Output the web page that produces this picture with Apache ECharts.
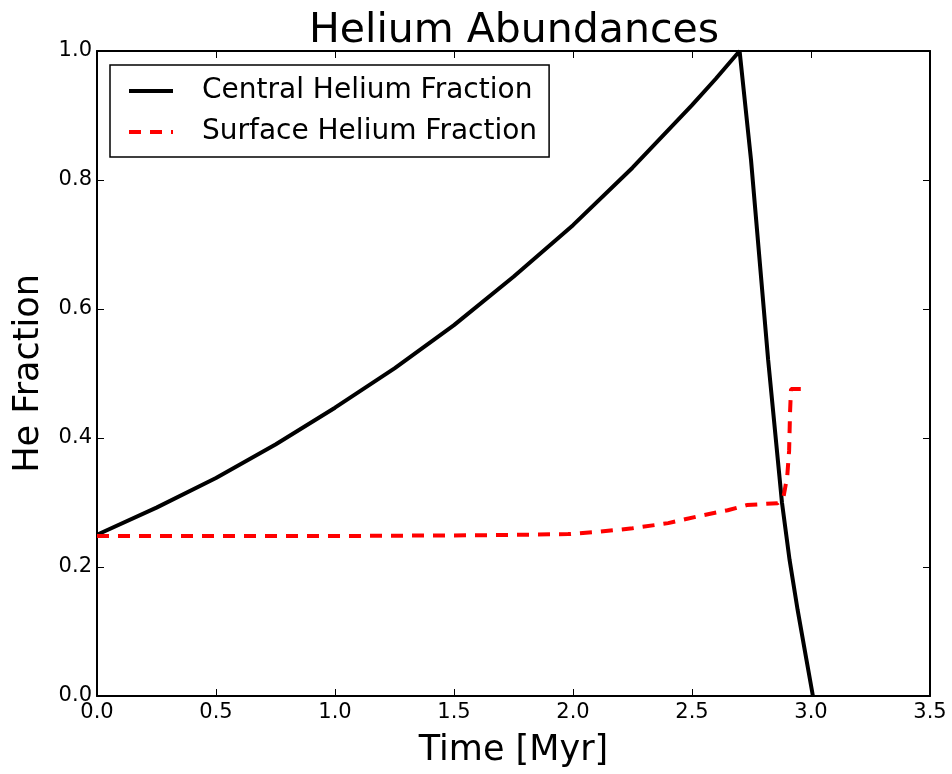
<!DOCTYPE html>
<html>
<head>
<meta charset="utf-8">
<script src="https://cdn.jsdelivr.net/npm/echarts@6/dist/echarts.min.js"></script>
<style>html,body{margin:0;padding:0;background:#fff}#c{width:952px;height:774px}</style>
</head>
<body>
<div id="c"></div>
<script>
const centralX = [0, 0.25, 0.5, 0.75, 1.0, 1.25, 1.5, 1.75, 2.0, 2.25, 2.5, 2.6, 2.70, 2.748, 2.82, 2.878, 2.91, 2.944, 2.981, 3.008];
const centralY = [0.25, 0.292, 0.338, 0.39, 0.447, 0.508, 0.575, 0.650, 0.730, 0.819, 0.916, 0.957, 1.0, 0.831, 0.521, 0.30, 0.211, 0.133, 0.056, 0.0];
const surfaceX = [0, 0.5, 1.0, 1.5, 1.7, 1.98, 2.11, 2.25, 2.4, 2.53, 2.65, 2.73, 2.86, 2.885, 2.9, 2.908, 2.912, 2.916, 2.97];
const surfaceY = [0.248, 0.248, 0.248, 0.249, 0.2496, 0.251, 0.2547, 0.26, 0.268, 0.279, 0.288, 0.296, 0.299, 0.31, 0.34, 0.38, 0.44, 0.476, 0.476];
const xTicks = [0, 0.5, 1.0, 1.5, 2.0, 2.5, 3.0, 3.5];
const yTicks = [0, 0.2, 0.4, 0.6, 0.8, 1.0];
const seriesNames = ['Central Helium Fraction', 'Surface Helium Fraction'];

const FONT = 'DejaVu Sans';
const zip = (a, b) => a.map((v, i) => [v, b[i]]);
const tickStyle = {show: true, inside: true, length: 7, lineStyle: {color: '#000', width: 1}};
const axLine = {show: true, onZero: false, lineStyle: {color: '#000', width: 2}};

const chart = echarts.init(document.getElementById('c'));
chart.setOption({
  animation: false,
  backgroundColor: '#fff',
  title: {
    text: 'Helium Abundances', left: 304, top: 6,
    textStyle: {fontFamily: FONT, fontSize: 41, fontWeight: 'normal', color: '#000'}
  },
  grid: {left: 97, right: 22, top: 51, bottom: 78},
  legend: {
    orient: 'vertical', left: 110, top: 65,
    data: seriesNames,
    itemWidth: 44, itemHeight: 14, itemGap: 13,
    padding: [12, 12, 11, 17],
    backgroundColor: '#fff', borderColor: '#000', borderWidth: 1.5, borderRadius: 0,
    itemStyle: {opacity: 0},
    lineStyle: {width: 4},
    textStyle: {fontFamily: FONT, fontSize: 28, color: '#000', padding: [0, 0, 0, 24]}
  },
  xAxis: [{
    type: 'value', min: 0, max: 3.5, interval: 0.5,
    name: 'Time [Myr]', nameLocation: 'middle', nameGap: 37,
    nameTextStyle: {fontFamily: FONT, fontSize: 35, color: '#000'},
    axisLine: axLine,
    axisTick: tickStyle,
    axisLabel: {fontFamily: FONT, fontSize: 21, color: '#000', margin: 6, formatter: v => v.toFixed(1)},
    splitLine: {show: false}
  }, {
    type: 'value', position: 'top', min: 0, max: 3.5, interval: 0.5,
    axisLine: axLine,
    axisTick: tickStyle, axisLabel: {show: false}, splitLine: {show: false}
  }],
  yAxis: [{
    type: 'value', min: 0, max: 1, interval: 0.2,
    name: 'He Fraction', nameLocation: 'middle', nameGap: 51,
    nameTextStyle: {fontFamily: FONT, fontSize: 35, color: '#000'},
    axisLine: axLine,
    axisTick: tickStyle,
    axisLabel: {fontFamily: FONT, fontSize: 21, color: '#000', margin: 5, formatter: v => v.toFixed(1)},
    splitLine: {show: false}
  }, {
    type: 'value', position: 'right', min: 0, max: 1, interval: 0.2,
    axisLine: axLine,
    axisTick: tickStyle, axisLabel: {show: false}, splitLine: {show: false}
  }],
  series: [{
    name: seriesNames[0], type: 'line', symbol: 'none', smooth: false,
    data: zip(centralX, centralY),
    lineStyle: {color: '#000', width: 4}, itemStyle: {color: '#000'}
  }, {
    name: seriesNames[1], type: 'line', symbol: 'none', smooth: false,
    data: zip(surfaceX, surfaceY),
    lineStyle: {color: '#ff0000', width: 4, type: [12, 9]}, itemStyle: {color: '#ff0000'}
  }]
});
</script>
</body>
</html>
